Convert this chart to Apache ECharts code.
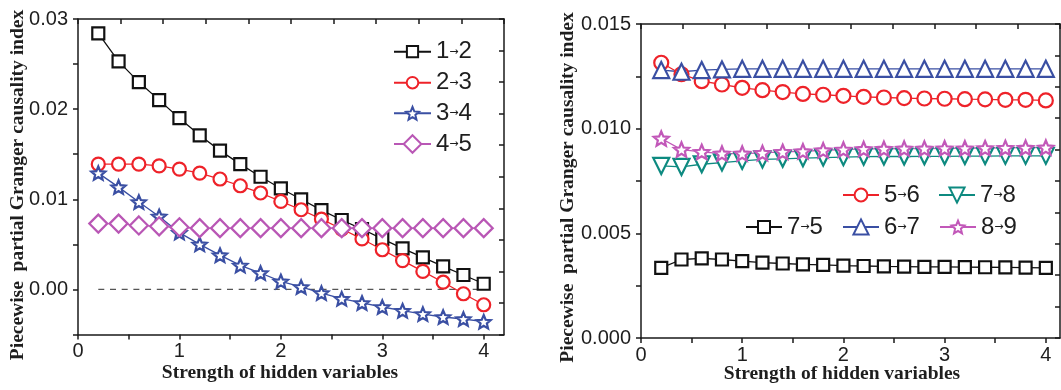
<!DOCTYPE html>
<html>
<head>
<meta charset="utf-8">
<script src="https://cdn.jsdelivr.net/npm/echarts@6/dist/echarts.min.js"></script>
<style>
html, body { margin: 0; padding: 0; background: #fff; }
#chart { width: 1061px; height: 390px; }
</style>
</head>
<body>
<div id="chart"></div>
<script>
// Strength of hidden variables (shared x values of both panels)
const strength = [0.2, 0.4, 0.6, 0.8, 1.0, 1.2, 1.4, 1.6, 1.8, 2.0, 2.2, 2.4, 2.6, 2.8, 3.0, 3.2, 3.4, 3.6, 3.8, 4.0];

// Left panel: piecewise partial Granger causality index
const g12 = [0.0284, 0.0253, 0.0230, 0.0210, 0.0190, 0.0171, 0.0154, 0.0139, 0.0125, 0.0112, 0.0100, 0.0088, 0.0077, 0.0067, 0.0056, 0.00455, 0.00355, 0.00255, 0.0016, 0.00063];
const g23 = [0.0139, 0.0139, 0.0139, 0.0137, 0.01335, 0.0129, 0.01225, 0.0115, 0.0107, 0.00976, 0.00884, 0.0078, 0.0067, 0.0056, 0.0044, 0.0032, 0.0020, 0.0008, -0.00048, -0.0017];
const g34 = [0.0129, 0.01135, 0.0097, 0.0081, 0.0063, 0.0050, 0.0038, 0.00266, 0.00182, 0.00089, 0.00027, -0.0004, -0.00103, -0.0015, -0.00195, -0.00236, -0.00273, -0.00306, -0.00328, -0.00358];
const g45 = [0.0073, 0.0073, 0.0071, 0.0070, 0.0069, 0.0068, 0.0068, 0.0068, 0.0068, 0.0068, 0.0068, 0.0068, 0.0068, 0.0068, 0.0068, 0.0068, 0.0068, 0.0068, 0.0068, 0.0068];
const zeroRefX = [0.2, 4.0];

// Right panel
const g75 = [0.00335, 0.00375, 0.0038, 0.00375, 0.00367, 0.0036, 0.00356, 0.00352, 0.00349, 0.00346, 0.00344, 0.00342, 0.00341, 0.0034, 0.0034, 0.00339, 0.00338, 0.00337, 0.00336, 0.00335];
const g56 = [0.01315, 0.0126, 0.01227, 0.01211, 0.01195, 0.01184, 0.01175, 0.01166, 0.01162, 0.01157, 0.01152, 0.01149, 0.01146, 0.01144, 0.01143, 0.01141, 0.0114, 0.01138, 0.01138, 0.01135];
const g67 = [0.0128, 0.01272, 0.0128, 0.01283, 0.01286, 0.01286, 0.01286, 0.01286, 0.01286, 0.01286, 0.01286, 0.01286, 0.01286, 0.01286, 0.01286, 0.01286, 0.01286, 0.01286, 0.01286, 0.01286];
const g78 = [0.00822, 0.00817, 0.0083, 0.00838, 0.00846, 0.00853, 0.00856, 0.00859, 0.00862, 0.00864, 0.00866, 0.00867, 0.00867, 0.00868, 0.00868, 0.00869, 0.00869, 0.0087, 0.0087, 0.0087];
const g89 = [0.00953, 0.0090, 0.00889, 0.00881, 0.00881, 0.00884, 0.00889, 0.00892, 0.00897, 0.0090, 0.00903, 0.00904, 0.00905, 0.00905, 0.00906, 0.00906, 0.00907, 0.00908, 0.00909, 0.0091];

// Tick positions and labels
const xTicks = [0, 0.5, 1, 1.5, 2, 2.5, 3, 3.5, 4];
const xLabels = [0, 1, 2, 3, 4];
const leftYTicks = [-0.005, 0, 0.005, 0.01, 0.015, 0.02, 0.025, 0.03];
const leftYLabels = [0, 0.01, 0.02, 0.03];
const rightYTicks = [0, 0.0025, 0.005, 0.0075, 0.01, 0.0125, 0.015];
const rightYLabels = [0, 0.005, 0.01, 0.015];

const axisTitle = 'Piecewise  partial Granger causality index';
const xTitle = 'Strength of hidden variables';

const C = {
  black: '#111111',
  red: '#ee2229',
  blue: '#3a4fa3',
  magenta: '#b957b5',
  pink: '#c258b9',
  teal: '#0d8a80',
  axis: '#1a1a1a',
  text: '#1e1e1e'
};

const STAR = 'path://M0,-10L2.645,-3.641L9.511,-3.09L4.28,1.391L5.878,8.09L0,4.5L-5.878,8.09L-4.28,1.391L-9.511,-3.09L-2.645,-3.641Z';

function pairs(values) {
  return strength.map((x, i) => [x, values[i]]);
}

function lineSeries(name, values, gi, symbol, size, color, extra) {
  return Object.assign({
    name: name,
    type: 'line',
    xAxisIndex: gi,
    yAxisIndex: gi,
    data: pairs(values),
    symbol: symbol,
    symbolSize: size,
    symbolKeepAspect: true,
    lineStyle: { color: color, width: 1.3 },
    itemStyle: { color: '#ffffff', borderColor: color, borderWidth: 2.2 },
    emphasis: { disabled: true },
    animation: false
  }, extra || {});
}

const axisLineStyle = { color: C.axis, width: 1.5 };
const labelFont = { fontFamily: 'Liberation Sans', fontSize: 20, color: C.text };

function bottomAxis(gi, max) {
  return {
    type: 'value', gridIndex: gi, position: 'bottom', min: 0, max: max,
    axisLine: { show: true, onZero: false, lineStyle: axisLineStyle },
    axisTick: { show: true, length: 5, lineStyle: axisLineStyle, customValues: xTicks },
    axisLabel: Object.assign({ margin: 7, customValues: xLabels, formatter: v => String(v) }, labelFont),
    splitLine: { show: false }
  };
}

function topAxis(gi) {
  return {
    type: 'value', gridIndex: gi, position: 'top', min: 0, max: 10, interval: 1,
    axisLine: { show: true, onZero: false, lineStyle: axisLineStyle },
    axisTick: { show: true, inside: true, length: 5, lineStyle: axisLineStyle },
    axisLabel: { show: false },
    splitLine: { show: false }
  };
}

function leftAxis(gi, min, max, ticks, labels, digits) {
  return {
    type: 'value', gridIndex: gi, position: 'left', min: min, max: max,
    axisLine: { show: true, onZero: false, lineStyle: axisLineStyle },
    axisTick: { show: true, length: 5, lineStyle: axisLineStyle, customValues: ticks },
    axisLabel: Object.assign({ margin: 10, customValues: labels, formatter: v => v.toFixed(digits) }, labelFont),
    splitLine: { show: false }
  };
}

function rightAxis(gi) {
  return {
    type: 'value', gridIndex: gi, position: 'right', min: 0, max: 10, interval: 1,
    axisLine: { show: true, onZero: false, lineStyle: axisLineStyle },
    axisTick: { show: true, inside: true, length: 5, lineStyle: axisLineStyle },
    axisLabel: { show: false },
    splitLine: { show: false }
  };
}

const richLegend = {
  d: { fontFamily: 'Liberation Sans', fontSize: 24, color: C.text, lineHeight: 24 },
  a: { fontFamily: 'DejaVu Sans', fontSize: 11, color: C.text, lineHeight: 24 }
};

function legendAt(name, left, top, itemWidth, itemHeight) {
  return {
    data: [name], left: left, top: top, padding: 0,
    orient: 'horizontal', selectedMode: false,
    itemWidth: itemWidth, itemHeight: itemHeight,
    formatter: n => {
      const parts = n.split('→');
      return '{d|' + parts[0] + '}{a|→}{d|' + parts[1] + '}';
    },
    textStyle: { rich: richLegend }
  };
}

function textEl(text, x, y, rotate) {
  return {
    type: 'text', x: x, y: y, rotation: rotate ? Math.PI / 2 : 0, silent: true,
    style: {
      text: text, fontFamily: 'Liberation Serif', fontWeight: 'bold', fontSize: 19.5,
      fill: C.text, align: 'center', verticalAlign: 'middle'
    }
  };
}

const chart = echarts.init(document.getElementById('chart'), null, { renderer: 'canvas' });

chart.setOption({
  animation: false,
  backgroundColor: '#ffffff',
  grid: [
    { left: 78, top: 19, width: 426, height: 315.5 },
    { left: 641, top: 24, width: 419, height: 314 }
  ],
  xAxis: [bottomAxis(0, 4.2), bottomAxis(1, 4.14), topAxis(0), topAxis(1)],
  yAxis: [
    leftAxis(0, -0.005, 0.03, leftYTicks, leftYLabels, 2),
    leftAxis(1, 0, 0.015, rightYTicks, rightYLabels, 3),
    rightAxis(0),
    rightAxis(1)
  ],
  legend: [
    legendAt('1→2', 393, 39.7, 37, 14),
    legendAt('2→3', 393, 70.7, 37, 14.5),
    legendAt('3→4', 393, 101.3, 37, 16),
    legendAt('4→5', 393, 132, 37, 22),
    legendAt('5→6', 842, 183, 36, 16),
    legendAt('7→8', 938, 183, 36, 19),
    legendAt('7→5', 745, 215, 36, 15),
    legendAt('6→7', 842, 215, 36, 19),
    legendAt('8→9', 939, 215, 36, 16)
  ],
  graphic: [
    textEl(axisTitle, 17.5, 185, true),
    textEl(axisTitle, 568, 187.5, true),
    textEl(xTitle, 280, 373, false),
    textEl(xTitle, 842, 374, false)
  ],
  series: [
    {
      name: 'zero', type: 'line', xAxisIndex: 0, yAxisIndex: 0,
      data: zeroRefX.map(x => [x, 0]), symbol: 'none', silent: true,
      lineStyle: { color: '#555555', width: 1.2, type: [6, 5.7] },
      emphasis: { disabled: true }, z: 1
    },
    lineSeries('1→2', g12, 0, 'rect', 12, C.black),
    lineSeries('2→3', g23, 0, 'circle', 13, C.red),
    lineSeries('3→4', g34, 0, STAR, 14, C.blue),
    lineSeries('4→5', g45, 0, 'diamond', 18, C.magenta),

    lineSeries('7→5', g75, 1, 'rect', 12, C.black),
    lineSeries('5→6', g56, 1, 'circle', 14, C.red),
    lineSeries('6→7', g67, 1, 'triangle', 16, C.blue),
    lineSeries('7→8', g78, 1, 'triangle', 16, C.teal, { symbolRotate: 180 }),
    lineSeries('8→9', g89, 1, STAR, 15, C.pink)
  ]
});
</script>
</body>
</html>
